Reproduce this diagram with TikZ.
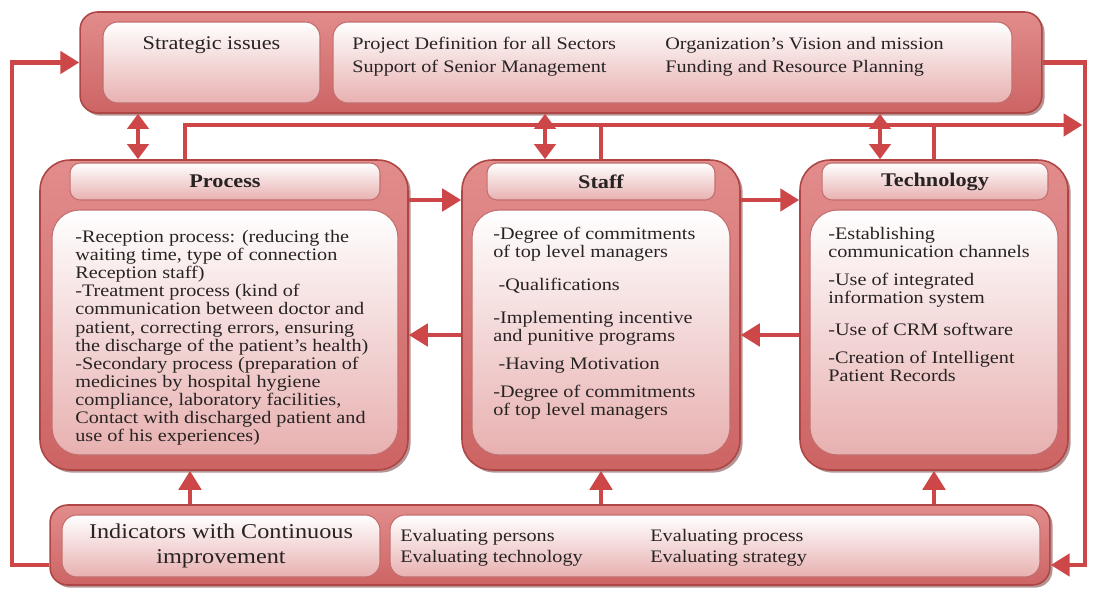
\documentclass[tikz,border=0pt]{standalone}
\usepackage{fontspec}
\setmainfont{Liberation Serif}[FakeStretch=1.15]
\usetikzlibrary{arrows.meta,shadows}
\definecolor{linkred}{RGB}{205,70,72}
\definecolor{rimtop}{RGB}{226,140,140}
\definecolor{rimbot}{RGB}{205,100,100}
\definecolor{rimedge}{RGB}{175,70,70}
\definecolor{padbot}{RGB}{232,176,176}
\definecolor{padedge}{RGB}{195,110,110}
\definecolor{inkgray}{RGB}{40,35,35}
\tikzset{
  rim/.style={draw=rimedge, line width=0.9pt, top color=rimtop, bottom color=rimbot, inner sep=0pt,
    drop shadow={shadow xshift=1.5pt, shadow yshift=-1.5pt, fill=rimedge!60!black, opacity=0.5}},
  pad/.style={draw=padedge, line width=0.6pt, top color=white, bottom color=padbot, inner sep=0pt, text=inkgray},
  head/.style={pad, rounded corners=0.2cm, minimum height=0.74cm, font=\fontsize{11}{13}\selectfont\bfseries},
  link/.style={draw=linkred, line width=2.8pt},
  arr/.style={link, -{Triangle[length=0.38cm,width=0.44cm]}},
  dbl/.style={link, {Triangle[length=0.3cm,width=0.42cm]}-{Triangle[length=0.3cm,width=0.42cm]}},
  list/.style={anchor=north west, inner sep=0pt, align=left, text=inkgray, font=\fontsize{10}{10.3}\selectfont},
  item/.style={anchor=west, inner sep=0pt, text=inkgray, font=\fontsize{10}{12}\selectfont},
}
\begin{document}
\begin{tikzpicture}[x=0.02cm, y=-0.02cm]
    \useasboundingbox (0,0) rectangle (1095,591);

    % Strategic issues
    \node[rim, rounded corners=0.35cm, minimum width=19.24cm, minimum height=2.02cm] (strat) at (561,62.5) {};
    \node[pad, rounded corners=0.3cm, minimum width=4.34cm, minimum height=1.62cm] (stratl) at (211.5,62.5) {};
    \node[pad, rounded corners=0.3cm, minimum width=13.58cm, minimum height=1.62cm] (stratr) at (672.5,62.5) {};
    \node[text=inkgray, font=\fontsize{11}{13}\selectfont] (stratt) at (211.5,45) {Strategic issues};
    \node[item] (pd) at (352,45) {Project Definition for all Sectors};
    \node[item] (sm) at (352,68) {Support of Senior Management};
    \node[item] (ov) at (665,45) {Organization's Vision and mission};
    \node[item] (fr) at (665,68) {Funding and Resource Planning};

    % Process
    \node[rim, rounded corners=0.6cm, minimum width=7.36cm, minimum height=6.2cm] (proc) at (224,315) {};
    \node[head, minimum width=6.2cm] (proch) at (225,181.5) {Process};
    \node[pad, rounded corners=0.55cm, minimum width=6.92cm, minimum height=4.9cm] (procb) at (225,332.5) {};
    \node[list] (proct) at (75,230) {-Reception process: (reducing the\\
        waiting time, type of connection\\
        Reception staff)\\
        -Treatment process (kind of\\
        communication between doctor and\\
        patient, correcting errors, ensuring\\
        the discharge of the patient's health)\\
        -Secondary process (preparation of\\
        medicines by hospital hygiene\\
        compliance, laboratory facilities,\\
        Contact with discharged patient and\\
        use of his experiences)};

    % Staff
    \node[rim, rounded corners=0.6cm, minimum width=5.56cm, minimum height=6.2cm] (staff) at (601,315) {};
    \node[head, minimum width=4.56cm] (staffh) at (601,181.5) {Staff};
    \node[pad, rounded corners=0.55cm, minimum width=5.16cm, minimum height=4.9cm] (staffb) at (601,332.5) {};
    \node[list] (stafft) at (493,227) {-Degree of commitments\\
        of top level managers\\[8.5pt]
        \hspace{3pt}-Qualifications\\[8.5pt]
        -Implementing incentive\\
        and punitive programs\\[5.5pt]
        \hspace{3pt}-Having Motivation\\[5.5pt]
        -Degree of commitments\\
        of top level managers};

    % Technology
    \node[rim, rounded corners=0.6cm, minimum width=5.36cm, minimum height=6.2cm] (tech) at (934,315) {};
    \node[head, minimum width=4.52cm] (techh) at (935,181.5) {Technology};
    \node[pad, rounded corners=0.55cm, minimum width=4.96cm, minimum height=4.9cm] (techb) at (934,332.5) {};
    \node[list] (techt) at (828,227) {-Establishing\\
        communication channels\\[5.5pt]
        -Use of integrated\\
        information system\\[8pt]
        -Use of CRM software\\[5.5pt]
        -Creation of Intelligent\\
        Patient Records};

    % Indicators
    \node[rim, rounded corners=0.35cm, minimum width=20cm, minimum height=1.6cm] (ind) at (550,545) {};
    \node[pad, rounded corners=0.3cm, minimum width=6.36cm, minimum height=1.24cm, align=center,
        font=\fontsize{12}{14}\selectfont] (indl) at (221,546) {Indicators with Continuous\\improvement};
    \node[pad, rounded corners=0.3cm, minimum width=13cm, minimum height=1.24cm] (indr) at (715,546) {};
    \node[item] (ep) at (400,537) {Evaluating persons};
    \node[item] (et) at (400,558) {Evaluating technology};
    \node[item] (epr) at (650,537) {Evaluating process};
    \node[item] (es) at (650,558) {Evaluating strategy};

    % Hilfspunkte
    \coordinate (lp) at (12,565);
    \coordinate (rp) at (1085,62.5);
    \coordinate (bus) at (185,125);
    \coordinate (hi) at (0,200);
    \coordinate (lo) at (0,335);
    \coordinate (d1) at (138,0);
    \coordinate (d2) at (545,0);
    \coordinate (d3) at (880,0);
    \coordinate (u1) at (190,0);

    % Rueckkopplung
    \draw[arr] (ind.west |- lp) -- (lp) -- (lp |- strat.west) -- (strat.west);
    \draw[arr] (strat.east) -- (rp) -- (rp |- lp) -- (ind.east |- lp);
    \draw[arr, shorten >=1.4pt] (proc.north -| bus) -- (bus) -- (bus -| rp);
    \draw[link] (staff.north) -- (staff.north |- bus);
    \draw[link] (tech.north) -- (tech.north |- bus);

    % Doppelpfeile
    \draw[dbl] (strat.south -| d1) -- (proc.north -| d1);
    \draw[dbl] (strat.south -| d2) -- (staff.north -| d2);
    \draw[dbl] (strat.south -| d3) -- (tech.north -| d3);

    % Querverbindungen
    \draw[arr] (proc.east |- hi) -- (staff.west |- hi);
    \draw[arr] (staff.east |- hi) -- (tech.west |- hi);
    \draw[arr] (staff.west |- lo) -- (proc.east |- lo);
    \draw[arr] (tech.west |- lo) -- (staff.east |- lo);

    % Indikatoren nach oben
    \draw[arr] (ind.north -| u1) -- (proc.south -| u1);
    \draw[arr] (ind.north -| staff.south) -- (staff.south);
    \draw[arr] (ind.north -| tech.south) -- (tech.south);
\end{tikzpicture}
\end{document}
